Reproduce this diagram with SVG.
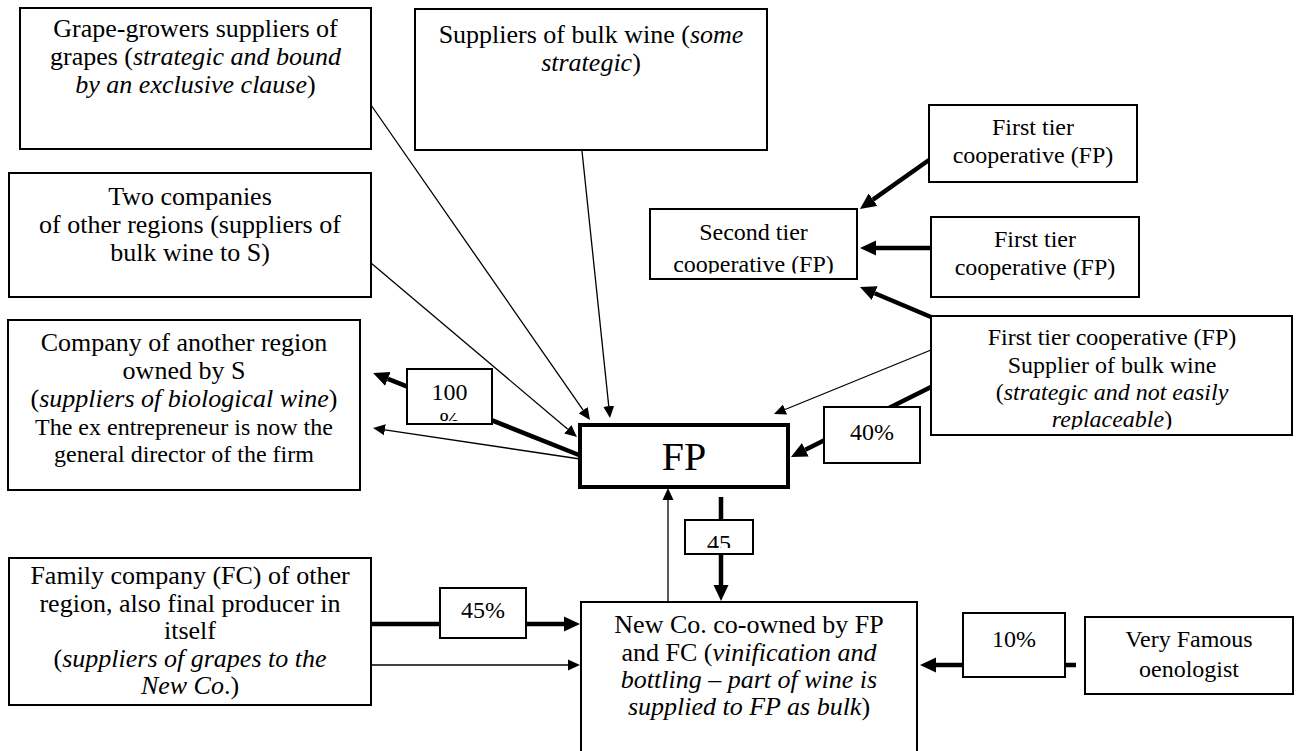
<svg xmlns="http://www.w3.org/2000/svg" width="1300" height="751" viewBox="0 0 1300 751">
  <style>
    .box { fill: #fff; stroke: #000; stroke-width: 2; }
    .fp { stroke-width: 4; }
    text { font-family: "Liberation Serif", "Times New Roman", "DejaVu Serif", serif; fill: #000; text-anchor: middle; }
    .t26 { font-size: 26px; }
    .t24 { font-size: 24px; }
    .t40 { font-size: 40px; }
    .i { font-style: italic; }
    .thin { stroke: #000; stroke-width: 1.3; fill: none; marker-end: url(#ah); }
    .thick { stroke: #000; stroke-width: 4.5; fill: none; }
    .thick.end { marker-end: url(#ahb); }
  </style>
  <defs>
    <marker id="ah" markerUnits="userSpaceOnUse" markerWidth="13" markerHeight="12" refX="0" refY="6" orient="auto" viewBox="0 0 13 12">
      <path d="M0,0.5 L12,6 L0,11.5 z" fill="#000"/>
    </marker>
    <marker id="ahb" markerUnits="userSpaceOnUse" markerWidth="17" markerHeight="16" refX="0" refY="8" orient="auto" viewBox="0 0 17 16">
      <path d="M0,0.5 L16,8 L0,15.5 z" fill="#000"/>
    </marker>
    <clipPath id="clipST"><rect x="651" y="210" width="205" height="63.5"/></clipPath>
    <clipPath id="clipG"><rect x="932" y="317" width="359" height="112.5"/></clipPath>
    <clipPath id="clip100"><rect x="408" y="370" width="83" height="51"/></clipPath>
    <clipPath id="clip45"><rect x="686" y="521" width="66" height="27"/></clipPath>
  </defs>

  <!-- connectors -->
  <g id="connectors">
    <line class="thin" x1="371" y1="105" x2="583.15" y2="410.15"/>
    <line class="thin" x1="582" y1="151" x2="608.75" y2="406.07"/>
    <line class="thin" x1="371" y1="263" x2="567.8" y2="429.3"/>
    <line class="thick end" x1="579" y1="455" x2="387.9" y2="378.9"/>
    <line class="thin" x1="580" y1="459" x2="384.9" y2="429.8"/>
    <line class="thin" x1="931" y1="350" x2="785.1" y2="409.5"/>
    <line class="thick end" x1="931" y1="387" x2="805.3" y2="449.8"/>
    <line class="thick end" x1="929" y1="160" x2="873" y2="199.7"/>
    <line class="thick end" x1="931" y1="248" x2="876" y2="248"/>
    <line class="thick end" x1="931" y1="317" x2="874.7" y2="293.2"/>
    <line class="thin" x1="668" y1="602" x2="668" y2="500"/>
    <line class="thick end" x1="721" y1="497" x2="721" y2="585"/>
    <line class="thick end" x1="371" y1="624" x2="564" y2="624"/>
    <line class="thin" x1="371" y1="665" x2="568" y2="665"/>
    <line class="thick end" x1="1076" y1="665" x2="936" y2="665"/>
  </g>

  <!-- suppliers on the upper left -->
  <g id="grape-growers">
    <rect class="box" x="20" y="8" width="351" height="141"/>
    <text class="t26" x="195.5" y="37">Grape-growers suppliers of</text>
    <text class="t26" x="195.5" y="65">grapes (<tspan class="i">strategic and bound</tspan></text>
    <text class="t26" x="195.5" y="93"><tspan class="i">by an exclusive clause</tspan>)</text>
  </g>
  <g id="bulk-wine-suppliers">
    <rect class="box" x="415" y="9" width="352" height="141"/>
    <text class="t26" x="591" y="43">Suppliers of bulk wine (<tspan class="i">some</tspan></text>
    <text class="t26" x="591" y="71"><tspan class="i">strategic</tspan>)</text>
  </g>
  <g id="two-companies">
    <rect class="box" x="9" y="173" width="362" height="124"/>
    <text class="t26" x="190" y="205">Two companies</text>
    <text class="t26" x="190" y="233">of other regions (suppliers of</text>
    <text class="t26" x="190" y="261">bulk wine to S)</text>
  </g>
  <g id="company-owned-by-s">
    <rect class="box" x="8" y="320" width="352" height="170"/>
    <text class="t26" x="184" y="351">Company of another region</text>
    <text class="t26" x="184" y="379">owned by S</text>
    <text class="t26" x="184" y="407">(<tspan class="i">suppliers of biological wine</tspan>)</text>
    <text class="t24" x="184" y="435">The ex entrepreneur is now the</text>
    <text class="t24" x="184" y="462">general director of the firm</text>
  </g>

  <!-- cooperatives on the upper right -->
  <g id="first-tier-1">
    <rect class="box" x="929" y="105" width="208" height="77"/>
    <text class="t24" x="1033" y="135">First tier</text>
    <text class="t24" x="1033" y="163">cooperative (FP)</text>
  </g>
  <g id="second-tier">
    <rect class="box" x="650" y="209" width="207" height="70"/>
    <g clip-path="url(#clipST)">
      <text class="t24" x="753.5" y="240">Second tier</text>
      <text class="t24" x="753.5" y="272">cooperative (FP)</text>
    </g>
  </g>
  <g id="first-tier-2">
    <rect class="box" x="931" y="217" width="208" height="80"/>
    <text class="t24" x="1035" y="247">First tier</text>
    <text class="t24" x="1035" y="275">cooperative (FP)</text>
  </g>
  <g id="first-tier-bulk">
    <rect class="box" x="931" y="316" width="361" height="119"/>
    <g clip-path="url(#clipG)">
      <text class="t24" x="1112" y="345">First tier cooperative (FP)</text>
      <text class="t24" x="1112" y="373">Supplier of bulk wine</text>
      <text class="t24" x="1112" y="400">(<tspan class="i">strategic and not easily</tspan></text>
      <text class="t24" x="1112" y="427"><tspan class="i">replaceable</tspan>)</text>
    </g>
  </g>

  <!-- focal firm -->
  <g id="fp">
    <rect class="box fp" x="580" y="425" width="208" height="62"/>
    <text class="t40" x="684" y="470">FP</text>
  </g>

  <!-- share labels -->
  <g id="label-100">
    <rect class="box" x="407" y="369" width="85" height="55"/>
    <g clip-path="url(#clip100)">
      <text class="t24" x="449.5" y="400">100</text>
      <text class="t24" x="449.5" y="428">%</text>
    </g>
  </g>
  <g id="label-40">
    <rect class="box" x="824" y="407" width="96" height="56"/>
    <text class="t24" x="872" y="440">40%</text>
  </g>
  <g id="label-45-fp">
    <rect class="box" x="685" y="520" width="68" height="34"/>
    <g clip-path="url(#clip45)">
      <text class="t24" x="719" y="551">45</text>
    </g>
  </g>
  <g id="label-45-fc">
    <rect class="box" x="440" y="588" width="86" height="50"/>
    <text class="t24" x="483" y="618">45%</text>
  </g>
  <g id="label-10">
    <rect class="box" x="963" y="613" width="102" height="64"/>
    <text class="t24" x="1014" y="647">10%</text>
  </g>

  <!-- lower row -->
  <g id="family-company">
    <rect class="box" x="9" y="558" width="362" height="147"/>
    <text class="t26" x="190" y="584">Family company (FC) of other</text>
    <text class="t26" x="190" y="612">region, also final producer in</text>
    <text class="t26" x="190" y="639">itself</text>
    <text class="t26" x="190" y="667">(<tspan class="i">suppliers of grapes to the</tspan></text>
    <text class="t26" x="190" y="694"><tspan class="i">New Co</tspan>.)</text>
  </g>
  <g id="new-co">
    <rect class="box" x="581" y="602" width="336" height="170"/>
    <text class="t26" x="749" y="633">New Co. co-owned by FP</text>
    <text class="t26" x="749" y="661">and FC (<tspan class="i">vinification and</tspan></text>
    <text class="t26" x="749" y="688"><tspan class="i">bottling – part of wine is</tspan></text>
    <text class="t26" x="749" y="715"><tspan class="i">supplied to FP as bulk</tspan>)</text>
  </g>
  <g id="oenologist">
    <rect class="box" x="1085" y="617" width="208" height="77"/>
    <text class="t24" x="1189" y="647">Very Famous</text>
    <text class="t24" x="1189" y="677">oenologist</text>
  </g>
</svg>
